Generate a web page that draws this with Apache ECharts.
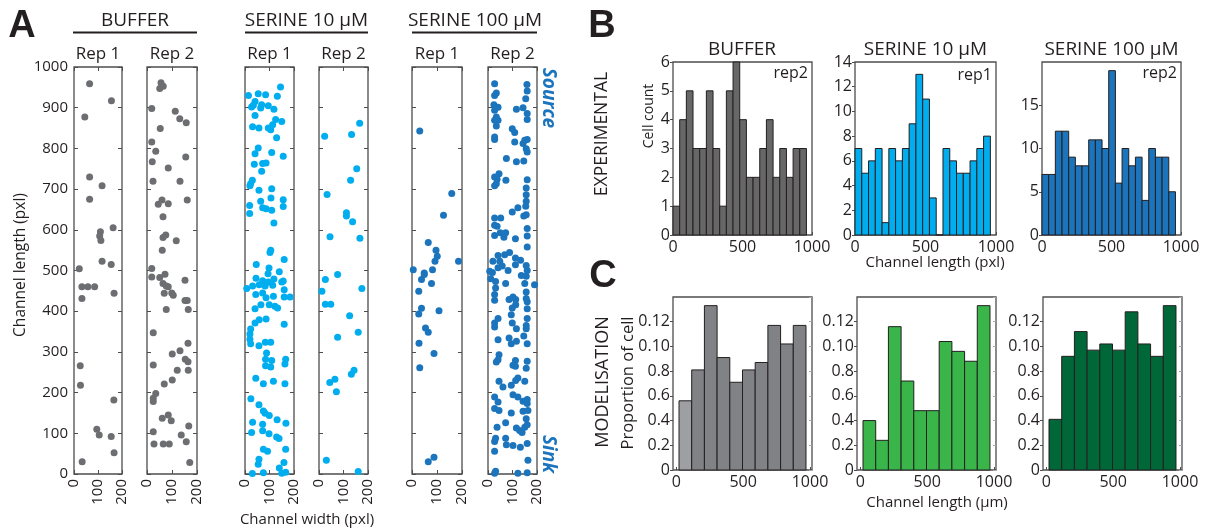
<!DOCTYPE html>
<html><head><meta charset="utf-8">
<script src="https://cdn.jsdelivr.net/npm/echarts@6/dist/echarts.min.js"></script>
<style>html,body{margin:0;padding:0;background:#fff}#c{width:1208px;height:532px}</style>
</head><body><div id="c"></div>
<script>
// ---------------- DATA ----------------
// Panel A: cell positions [channel width (pxl), channel length (pxl)]
const bufferRep1 = [[65,959],[45,877],[156,917],[65,730],[117,708],[65,675],[163,605],[110,595],[107,585],[112,574],[117,523],[155,515],[22,504],[33,460],[58,460],[86,460],[33,431],[167,444],[26,266],[27,218],[166,182],[95,110],[105,96],[155,92],[167,52],[34,30]];
const bufferRep2 = [[56,961],[65,953],[51,947],[19,898],[113,891],[131,873],[157,863],[53,849],[19,816],[35,793],[155,779],[21,767],[85,752],[24,719],[132,719],[60,673],[45,663],[161,673],[85,664],[64,632],[64,581],[75,587],[117,573],[61,550],[72,491],[19,505],[19,484],[51,483],[64,468],[77,462],[85,460],[69,444],[99,445],[105,439],[152,476],[152,426],[161,426],[165,404],[77,404],[25,347],[164,321],[132,303],[101,295],[25,268],[153,282],[164,276],[121,255],[165,255],[101,231],[69,221],[35,198],[25,186],[25,178],[61,137],[85,145],[97,131],[25,104],[28,74],[65,74],[89,74],[137,96],[157,79],[167,118],[171,28]];
const serine10Rep1 = [[145,951],[14,930],[54,934],[84,932],[132,928],[41,915],[27,902],[68,907],[95,905],[64,899],[34,906],[118,896],[41,881],[125,871],[150,866],[113,858],[31,853],[57,850],[95,850],[105,846],[129,826],[54,801],[41,787],[109,790],[156,781],[38,761],[72,763],[86,764],[68,744],[30,722],[23,713],[20,708],[57,697],[109,701],[64,670],[106,678],[156,674],[19,660],[72,654],[86,652],[109,648],[156,657],[19,640],[118,617],[105,550],[102,544],[46,515],[160,527],[98,506],[140,497],[94,492],[45,481],[118,479],[72,475],[95,472],[7,456],[31,462],[58,465],[82,462],[113,464],[150,472],[156,474],[44,441],[72,445],[86,433],[160,453],[160,435],[184,435],[116,437],[99,416],[122,412],[133,408],[41,406],[65,416],[86,381],[58,379],[41,371],[160,368],[23,356],[20,344],[20,331],[23,320],[57,315],[83,324],[105,324],[88,297],[84,282],[109,279],[84,266],[105,263],[166,282],[163,270],[44,235],[75,222],[116,228],[163,222],[24,185],[57,170],[75,155],[82,149],[99,144],[31,127],[72,122],[131,133],[167,125],[27,102],[72,106],[98,99],[129,91],[139,87],[75,61],[92,56],[166,61],[57,36],[54,24],[159,28],[75,3],[140,15],[166,4],[30,1],[150,2]];
const serine10Rep2 = [[166,862],[23,830],[133,834],[154,750],[129,722],[33,687],[112,642],[112,634],[137,620],[45,583],[167,579],[26,478],[76,490],[12,449],[175,456],[26,417],[48,417],[125,389],[160,348],[76,336],[143,255],[132,245],[65,233],[44,225],[71,202],[30,34],[160,6]];
const serine100Rep1 = [[31,843],[159,689],[126,636],[65,569],[96,550],[101,535],[92,523],[186,523],[5,502],[82,502],[49,494],[49,490],[38,478],[78,468],[27,449],[38,407],[108,401],[27,393],[54,359],[65,348],[28,321],[88,296],[31,261],[88,41],[65,30]];
const serine100Rep2 = [[27,959],[159,957],[34,936],[160,941],[27,930],[154,922],[24,907],[41,901],[116,896],[143,900],[27,894],[160,886],[34,877],[27,869],[41,869],[160,871],[34,855],[27,828],[27,822],[99,848],[109,839],[150,820],[160,822],[143,812],[109,816],[156,799],[160,791],[75,775],[116,767],[146,769],[45,738],[27,730],[37,724],[73,722],[34,713],[27,708],[160,723],[156,703],[156,686],[156,670],[122,654],[154,658],[99,644],[146,634],[156,637],[27,629],[52,629],[27,611],[37,609],[160,603],[27,586],[50,593],[72,593],[65,582],[112,578],[160,585],[160,558],[41,537],[68,539],[88,544],[112,531],[20,523],[48,523],[58,511],[82,500],[133,525],[112,514],[156,512],[160,500],[7,498],[18,495],[41,507],[11,480],[31,473],[136,488],[156,486],[150,468],[190,465],[72,468],[31,457],[27,441],[27,427],[86,429],[102,435],[113,429],[113,416],[156,447],[156,431],[160,423],[160,406],[99,408],[95,391],[41,382],[27,371],[27,361],[99,371],[116,357],[160,382],[156,365],[156,357],[41,330],[86,334],[95,320],[116,326],[146,339],[160,320],[45,293],[41,281],[34,275],[112,279],[102,267],[112,265],[160,277],[156,260],[45,228],[61,214],[95,218],[113,230],[122,236],[150,228],[27,189],[41,177],[102,195],[122,189],[143,179],[160,183],[160,173],[27,161],[45,156],[95,150],[143,154],[163,156],[156,136],[72,126],[37,115],[116,113],[129,107],[139,102],[150,115],[160,121],[31,88],[27,80],[72,88],[75,72],[102,70],[132,66],[160,75],[27,56],[163,34],[31,7],[27,2],[122,2],[160,3]];

// Panel B: cell counts per 20 bins
const expBuffer = [1,4,5,3,3,5,3,1,5,6,4,2,2,3,4,2,3,2,3,3];
const expSerine10 = [7,5,6,7,1,7,6,7,9,13,11,3,0,7,6,5,5,6,7,8];
const expSerine100 = [7,7,12,12,9,8,8,11,11,10,19,6,10,8,9,4,10,9,9,5];
const expBinWidth = 48;

// Panel C: proportion of cells per 10 bins
const modBuffer = [0.056,0.081,0.133,0.091,0.071,0.081,0.087,0.117,0.102,0.117];
const modSerine10 = [0.040,0.024,0.116,0.072,0.048,0.048,0.104,0.096,0.088,0.133];
const modSerine100 = [0.041,0.092,0.112,0.097,0.102,0.097,0.128,0.102,0.092,0.133];
const modBinStart = 20;
const modBinWidth = 95;
const modTickLabels = ['0','0.2','0.4','0.6','0.8','0.10','0.12'];

// ---------------- STYLE ----------------
const FONT = '"Open Sans", sans-serif';
const TXT = '#231f20';
const AX = '#4d4d4f';
const GRAY_DOT = '#6d6e71', CYAN = '#00aeef', BLUE = '#1c75bc';
const B_GRAY = '#676767', C_GRAY = '#808285', C_GRAY_LIGHT = '#9d9fa2', GREEN = '#39b54a', DKGREEN = '#006838';

const grid = [], xAxis = [], yAxis = [], series = [], graphic = [];
function addGrid(g) {
  grid.push(Object.assign({show: true, borderColor: AX, borderWidth: 1.3, backgroundColor: 'transparent', containLabel: false, outerBoundsMode: 'none'}, g));
  return grid.length - 1;
}
function addAxis(arr, a) { arr.push(Object.assign({axisLine: {show: false, onZero: false}, splitLine: {show: false}}, a)); return arr.length - 1; }
const plain = (v) => String(Math.round(v * 1000) / 1000);
const lbl = (size, extra) => Object.assign({color: TXT, fontFamily: FONT, fontSize: size, formatter: plain}, extra || {});
const tick = (len, inside, extra) => Object.assign({show: true, inside: inside, length: len, lineStyle: {color: AX, width: 1}}, extra || {});

// ---------------- PANEL A ----------------
const scatterPanels = [
  {left: 74, width: 48, data: bufferRep1, color: GRAY_DOT, rep: 'Rep 1', yLabels: true},
  {left: 147, width: 50, data: bufferRep2, color: GRAY_DOT, rep: 'Rep 2'},
  {left: 245, width: 49, data: serine10Rep1, color: CYAN, rep: 'Rep 1'},
  {left: 319, width: 49, data: serine10Rep2, color: CYAN, rep: 'Rep 2'},
  {left: 412, width: 50, data: serine100Rep1, color: BLUE, rep: 'Rep 1'},
  {left: 488, width: 49, data: serine100Rep2, color: BLUE, rep: 'Rep 2'}
];
const sTop = 67, sH = 407;
scatterPanels.forEach(p => {
  const gi = addGrid({left: p.left, top: sTop, width: p.width, height: sH});
  const xb = addAxis(xAxis, {gridIndex: gi, type: 'value', min: 0, max: 200, interval: 100, position: 'bottom',
    axisTick: tick(4, true), axisLabel: lbl(15, {rotate: 90, margin: 5})});
  addAxis(xAxis, {gridIndex: gi, type: 'value', min: 0, max: 200, interval: 100, position: 'top',
    axisTick: tick(4, true), axisLabel: {show: false}});
  const yl = addAxis(yAxis, {gridIndex: gi, type: 'value', min: 0, max: 1000, interval: 100, position: 'left',
    axisTick: tick(4, true), axisLabel: lbl(15, {show: !!p.yLabels, margin: 6})});
  addAxis(yAxis, {gridIndex: gi, type: 'value', min: 0, max: 1000, interval: 100, position: 'right',
    axisTick: tick(4, true), axisLabel: {show: false}});
  series.push({type: 'scatter', xAxisIndex: xb, yAxisIndex: yl, data: p.data, symbolSize: 7,
    itemStyle: {color: p.color, opacity: 1}, clip: false, silent: true});
  graphic.push({type: 'text', x: p.left + p.width / 2, y: 54,
    style: {text: p.rep, fontFamily: FONT, fontSize: 17, fill: TXT, textAlign: 'center', align: 'center', textVerticalAlign: 'middle', verticalAlign: 'middle'}});
});

// ---------------- HISTOGRAMS ----------------
function histSeries(xi, yi, counts, start, width, colorFn) {
  const data = counts.map((v, i) => [start + i * width, start + (i + 1) * width, v]);
  return {type: 'custom', xAxisIndex: xi, yAxisIndex: yi, data: data, encode: {x: [0, 1], y: 2}, silent: true,
    renderItem: function (params, api) {
      const p0 = api.coord([api.value(0), api.value(2)]);
      const p1 = api.coord([api.value(1), 0]);
      return {type: 'rect', shape: {x: p0[0], y: p0[1], width: p1[0] - p0[0], height: p1[1] - p0[1]},
        style: {fill: colorFn(params.dataIndex), stroke: '#231f20', lineWidth: 1}};
    }};
}

const bPanels = [
  {left: 673, width: 139, counts: expBuffer, max: 6, interval: 1, color: B_GRAY},
  {left: 855, width: 141, counts: expSerine10, max: 14, interval: 2, color: CYAN},
  {left: 1042, width: 139, counts: expSerine100, max: 20, interval: 5, color: BLUE, hideMax: true}
];
bPanels.forEach(p => {
  const gi = addGrid({left: p.left, top: 62, width: p.width, height: 173});
  const xi = addAxis(xAxis, {gridIndex: gi, type: 'value', min: 0, max: 1000, interval: 500,
    axisTick: tick(3, true), axisLabel: lbl(16, {margin: 4})});
  const yi = addAxis(yAxis, {gridIndex: gi, type: 'value', min: 0, max: p.max, interval: p.interval,
    axisTick: tick(3, false), axisLabel: lbl(16, {margin: 3, showMaxLabel: !p.hideMax})});
  series.push(histSeries(xi, yi, p.counts, 0, expBinWidth, () => p.color));
});

const cPanels = [
  {left: 673, counts: modBuffer, color: (i) => i === 0 ? C_GRAY_LIGHT : C_GRAY},
  {left: 857, counts: modSerine10, color: () => GREEN},
  {left: 1043, counts: modSerine100, color: () => DKGREEN}
];
cPanels.forEach(p => {
  const gi = addGrid({left: p.left, top: 297, width: 139, height: 173});
  const xi = addAxis(xAxis, {gridIndex: gi, type: 'value', min: -25, max: 1015,
    axisTick: tick(3, true, {customValues: [0, 500, 1000]}),
    axisLabel: lbl(16, {margin: 4, customValues: [0, 500, 1000]})});
  const yi = addAxis(yAxis, {gridIndex: gi, type: 'value', min: 0, max: 0.14, interval: 0.02,
    axisTick: tick(3, false),
    axisLabel: lbl(16, {margin: 3, showMaxLabel: false, formatter: (v, idx) => modTickLabels[idx] !== undefined ? modTickLabels[idx] : ''})});
  addAxis(yAxis, {gridIndex: gi, type: 'value', min: 0, max: 0.14, interval: 0.02, position: 'right',
    axisTick: tick(3, true, {lineStyle: {color: '#a7a9ac', width: 1}}), axisLabel: {show: false}});
  series.push(histSeries(xi, yi, p.counts, modBinStart, modBinWidth, p.color));
});

// ---------------- TEXT ----------------
function txt(text, x, y, size, opts) {
  opts = opts || {};
  graphic.push({type: 'text', x: x, y: y, rotation: opts.rot || 0, silent: true,
    style: {text: text, fontFamily: opts.family || FONT, fontSize: size, fontWeight: opts.weight || 'normal', fontStyle: opts.style || 'normal',
      fill: opts.color || TXT, textAlign: opts.align || 'center', align: opts.align || 'center', textVerticalAlign: 'middle', verticalAlign: 'middle'}});
}
function line(x1, y, x2) {
  graphic.push({type: 'line', silent: true, shape: {x1: x1, y1: y, x2: x2, y2: y}, style: {stroke: TXT, lineWidth: 2}});
}
// panel letters
txt('A', 22, 27, 38, {weight: 'bold', family: '"Liberation Sans", Arial, sans-serif'});
txt('B', 602, 27, 38, {weight: 'bold', family: '"Liberation Sans", Arial, sans-serif'});
txt('C', 603, 277, 38, {weight: 'bold', family: '"Liberation Sans", Arial, sans-serif'});
// panel A headers
txt('BUFFER', 135, 21, 19); line(73, 32.5, 197);
txt('SERINE 10 μM', 306.5, 21, 19); line(245, 32.5, 368);
txt('SERINE 100 μM', 475, 21, 19); line(412, 32.5, 537);
txt('Channel length (pxl)', 21, 265, 15.5, {rot: Math.PI / 2});
txt('Channel width (pxl)', 307, 520, 15);
txt('Source', 548, 98, 19, {rot: -Math.PI / 2, weight: 'bold', style: 'italic', color: BLUE});
txt('Sink', 548, 454, 19, {rot: -Math.PI / 2, weight: 'bold', style: 'italic', color: BLUE});
// panel B headers
txt('BUFFER', 742, 50, 19);
txt('SERINE 10 μM', 925.5, 50, 19);
txt('SERINE 100 μM', 1111.5, 50, 19);
txt('rep2', 808, 73, 16, {align: 'right'});
txt('rep1', 992, 75, 16, {align: 'right'});
txt('rep2', 1177, 73, 16, {align: 'right'});
txt('EXPERIMENTAL', 602.5, 134, 17.5, {rot: Math.PI / 2});
txt('Cell count', 649, 116, 14, {rot: Math.PI / 2});
txt('Channel length (pxl)', 935, 263, 15);
// panel C
txt('MODELISATION', 603, 382, 18, {rot: Math.PI / 2});
txt('Proportion of cell', 628.5, 383, 16.5, {rot: Math.PI / 2});
txt('Channel length (μm)', 937, 503, 15);

const chart = echarts.init(document.getElementById('c'), null, {renderer: 'canvas', width: 1208, height: 532});
chart.setOption({animation: false, backgroundColor: '#ffffff', grid: grid, xAxis: xAxis, yAxis: yAxis, series: series, graphic: graphic});
</script></body></html>
